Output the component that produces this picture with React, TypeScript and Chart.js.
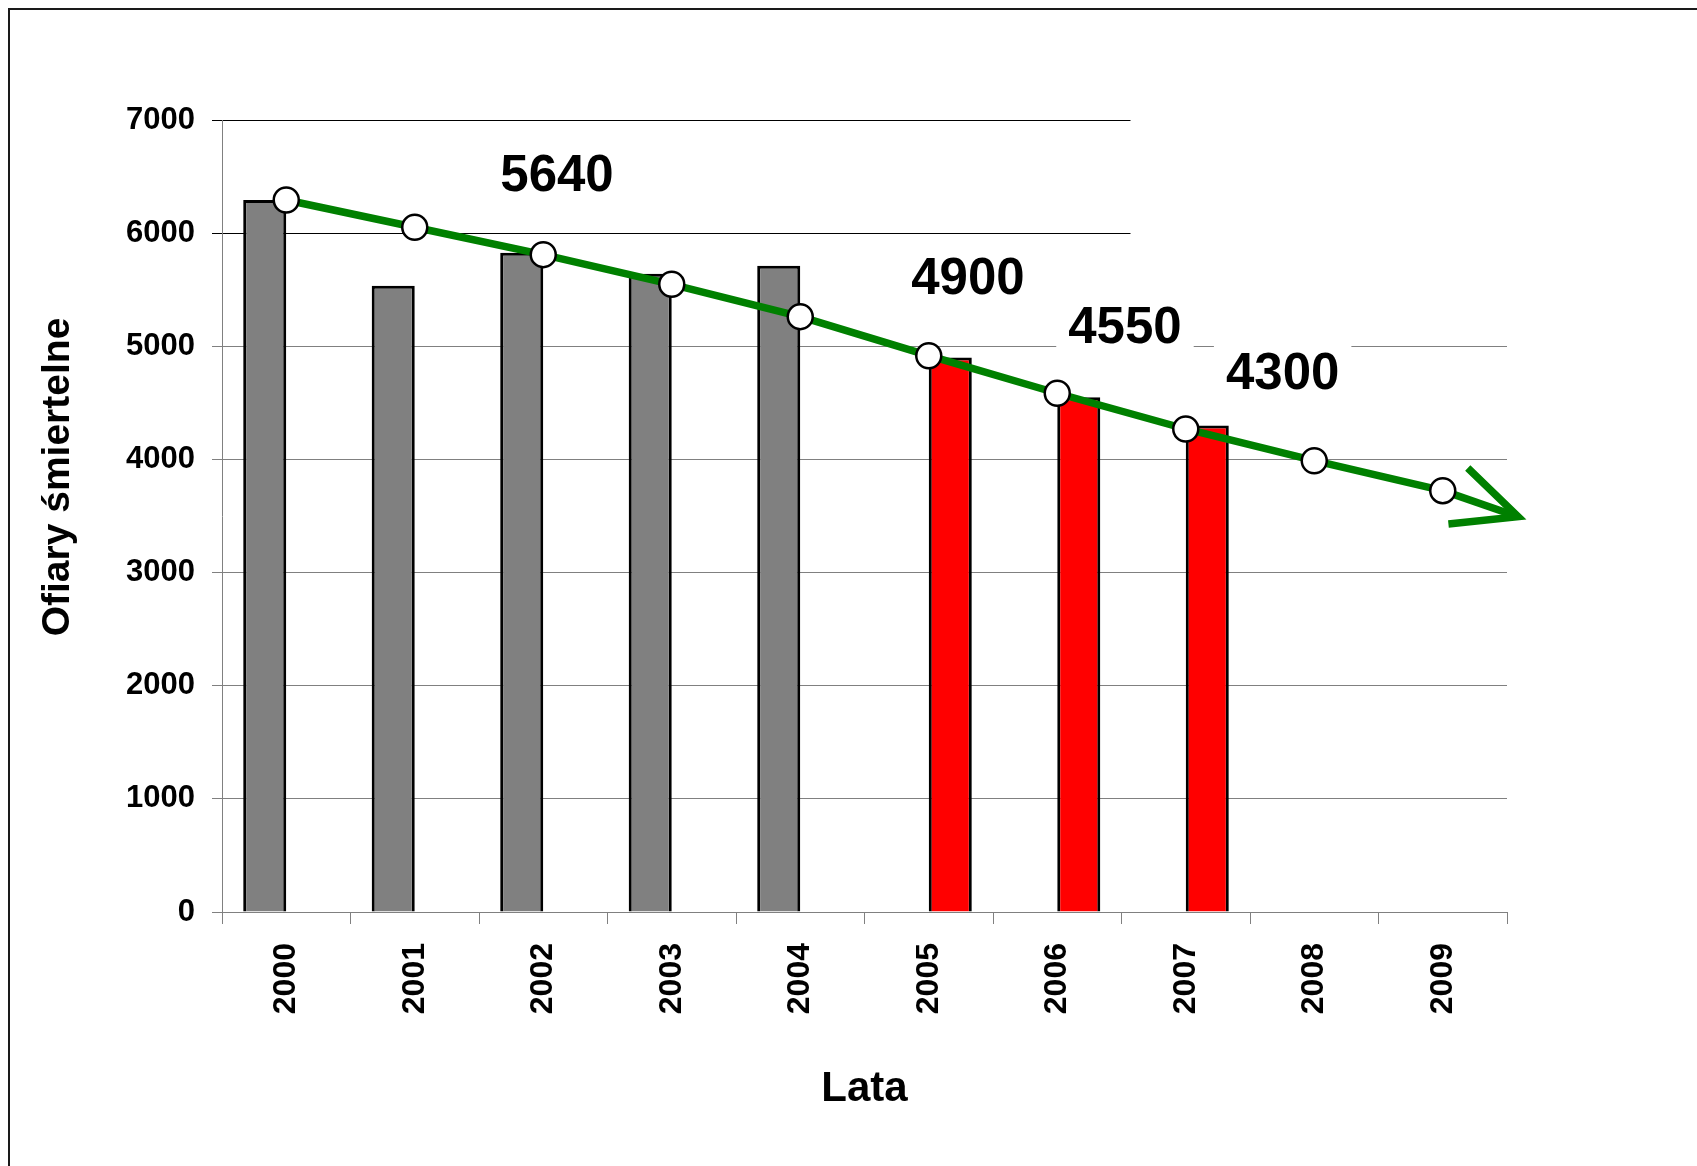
import { useEffect, useRef } from 'react';
import { Chart, registerables } from 'chart.js';

Chart.register(...registerables);

// ---- data ----
const years = ['2000', '2001', '2002', '2003', '2004', '2005', '2006', '2007', '2008', '2009'];
const recordedDeaths = [6294, 5534, 5827, 5640, 5712, null, null, null, null, null];
const targetDeaths = [null, null, null, null, null, 4900, 4550, 4300, null, null];
const trendLine = [6293, 6052, 5810, 5548, 5262, 4917, 4585, 4269, 3989, 3724];
const yTickValues = [0, 1000, 2000, 3000, 4000, 5000, 6000, 7000];
const calloutTexts = ['5640', '4900', '4550', '4300'];
// anchors in data coordinates (category index, value)
const calloutIndex = [2.107, 5.305, 6.527, 7.754];
const calloutValue = [6499, 5586, 5157, 4746];
const arrowTipIndex = 9.586;
const arrowTipValue = 3494;

const FONT = "'Liberation Sans', Arial, Helvetica, sans-serif";

export default function App() {
  const ref = useRef<HTMLCanvasElement>(null);

  useEffect(() => {
    document.body.style.margin = '0';
    document.body.style.overflow = 'hidden';
    if (!ref.current) return;

    const overlay = {
      id: 'overlay',
      beforeDatasetsDraw(chart: any) {
        const { ctx, scales } = chart;
        const x = scales.x;
        const y = scales.y;
        ctx.save();
        // white area covering the upper right part of the grid
        const mx = x.getPixelForValue(6.57);
        const my = y.getPixelForValue(5450);
        ctx.fillStyle = '#ffffff';
        ctx.fillRect(mx, 20, chart.width - mx, my - 20);

        // callout labels with white boxes
        ctx.font = `bold 51px ${FONT}`;
        ctx.textAlign = 'center';
        ctx.textBaseline = 'middle';
        calloutTexts.forEach((t, i) => {
          const px = x.getPixelForValue(calloutIndex[i]);
          const py = y.getPixelForValue(calloutValue[i]);
          const w = ctx.measureText(t).width + 24;
          ctx.fillStyle = '#ffffff';
          ctx.fillRect(px - w / 2, py - 38, w, 76);
          ctx.fillStyle = '#000000';
          ctx.fillText(t, px, py);
        });

        // trend arrow
        const meta = chart.getDatasetMeta(2);
        const last = meta.data[meta.data.length - 1];
        const tx = x.getPixelForValue(arrowTipIndex);
        const ty = y.getPixelForValue(arrowTipValue);
        const ang = Math.atan2(ty - last.y, tx - last.x);
        ctx.strokeStyle = '#008000';
        ctx.lineWidth = 7.5;
        ctx.lineCap = 'butt';
        ctx.beginPath();
        ctx.moveTo(last.x, last.y);
        ctx.lineTo(tx - Math.cos(ang) * 3, ty - Math.sin(ang) * 3);
        ctx.stroke();
        const back = ang + Math.PI;
        const spread = (25 * Math.PI) / 180;
        const len = 70;
        ctx.lineWidth = 7.5;
        ctx.lineJoin = 'miter';
        ctx.miterLimit = 10;
        ctx.beginPath();
        ctx.moveTo(tx + Math.cos(back + spread) * len, ty + Math.sin(back + spread) * len);
        ctx.lineTo(tx, ty);
        ctx.lineTo(tx + Math.cos(back - spread) * len, ty + Math.sin(back - spread) * len);
        ctx.stroke();
        ctx.restore();
      },
      afterDraw(chart: any) {
        const { ctx } = chart;
        ctx.save();
        // slide frame
        ctx.strokeStyle = '#1a1a1a';
        ctx.lineWidth = 2;
        ctx.beginPath();
        ctx.moveTo(9, chart.height);
        ctx.lineTo(9, 9);
        ctx.lineTo(chart.width, 9);
        ctx.stroke();
        // y axis title
        ctx.translate(58.5, 477);
        ctx.rotate(-Math.PI / 2);
        ctx.font = `bold 39px ${FONT}`;
        ctx.fillStyle = '#000000';
        ctx.textAlign = 'center';
        ctx.textBaseline = 'middle';
        ctx.fillText('Ofiary śmiertelne', 0, 0);
        ctx.restore();
      },
    };

    const chart = new Chart(ref.current, {
      type: 'bar',
      data: {
        labels: years,
        datasets: [
          {
            type: 'bar',
            data: recordedDeaths as any,
            backgroundColor: '#808080',
            borderColor: '#000000',
            borderWidth: 3,
            categoryPercentage: 0.67,
            barPercentage: 1,
            order: 1,
          },
          {
            type: 'bar',
            data: targetDeaths as any,
            backgroundColor: '#ff0000',
            borderColor: '#000000',
            borderWidth: 3,
            categoryPercentage: 0.67,
            barPercentage: 1,
            order: 2,
          },
          {
            type: 'line',
            data: trendLine,
            borderColor: '#008000',
            borderWidth: 7.5,
            tension: 0,
            pointRadius: 12.5,
            pointBackgroundColor: '#ffffff',
            pointBorderColor: '#000000',
            pointBorderWidth: 2.5,
            order: 0,
          } as any,
        ],
      },
      options: {
        animation: false,
        responsive: true,
        maintainAspectRatio: false,
        devicePixelRatio: 1,
        layout: { padding: { top: 120, right: 190, bottom: 0, left: 0 } },
        plugins: {
          legend: { display: false },
          tooltip: { enabled: false },
        },
        scales: {
          x: {
            offset: true,
            grid: {
              display: true,
              drawOnChartArea: false,
              drawTicks: true,
              tickLength: 12,
              color: '#808080',
              offset: true,
            },
            border: { display: true, color: '#808080', width: 1 },
            ticks: {
              autoSkip: false,
              minRotation: 90,
              maxRotation: 90,
              padding: 19,
              color: '#000000',
              font: { family: FONT, size: 32, weight: 'bold' },
            },
            title: {
              display: true,
              text: 'Lata',
              color: '#000000',
              font: { family: FONT, size: 42, weight: 'bold' },
              padding: { top: 0, bottom: 51 },
            },
            afterFit: (s: any) => {
              s.height = 254;
            },
          },
          y: {
            min: 0,
            max: 7000,
            afterBuildTicks: (s: any) => {
              s.ticks = yTickValues.map((v) => ({ value: v }));
            },
            grid: {
              color: (c: any) => (c.tick && c.tick.value >= 6000 ? '#000000' : '#808080'),
              tickLength: 10,
              drawTicks: true,
            },
            border: { display: true, color: '#808080', width: 1 },
            ticks: {
              padding: 17,
              color: '#000000',
              font: { family: FONT, size: 31, weight: 'bold' },
              callback: (v: any) => String(v),
            },
            afterFit: (s: any) => {
              s.width = 222;
            },
          },
        },
      } as any,
      plugins: [overlay],
    });

    return () => chart.destroy();
  }, []);

  return (
    <div style={{ position: 'relative', width: 1697, height: 1166, background: '#ffffff' }}>
      <canvas ref={ref} />
    </div>
  );
}
